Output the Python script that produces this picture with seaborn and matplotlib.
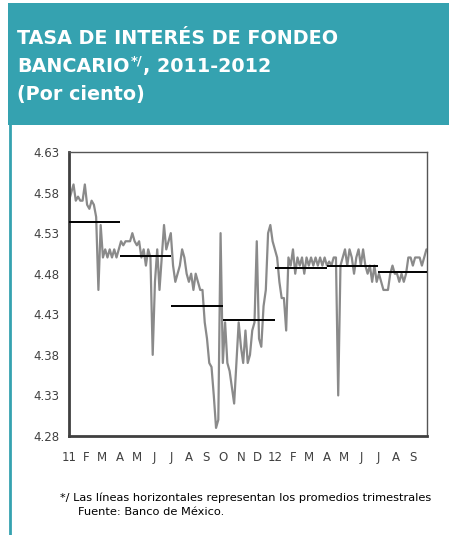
import numpy as np
import pandas as pd
import matplotlib
matplotlib.use("Agg")
import matplotlib.pyplot as plt
from matplotlib.patches import Rectangle
from matplotlib.lines import Line2D
import seaborn as sns

# ---------------- data ----------------
rate = [
    4.57, 4.58, 4.59, 4.57, 4.575, 4.57, 4.57, 4.59, 4.565, 4.56,
    4.57, 4.565, 4.55, 4.46, 4.54, 4.50, 4.51, 4.50, 4.51, 4.50,
    4.51, 4.50, 4.51, 4.52, 4.515, 4.52, 4.52, 4.52, 4.53, 4.52,
    4.515, 4.52, 4.50, 4.51, 4.49, 4.51, 4.50, 4.38, 4.47, 4.51,
    4.46, 4.50, 4.54, 4.51, 4.52, 4.53, 4.49, 4.47, 4.48, 4.49,
    4.51, 4.50, 4.48, 4.47, 4.48, 4.46, 4.48, 4.47, 4.46, 4.46,
    4.42, 4.40, 4.37, 4.365, 4.33, 4.29, 4.30, 4.53, 4.37, 4.42,
    4.37, 4.36, 4.34, 4.32, 4.37, 4.42, 4.39, 4.37, 4.41, 4.37,
    4.38, 4.41, 4.42, 4.52, 4.40, 4.39, 4.44, 4.46, 4.53, 4.54,
    4.52, 4.51, 4.50, 4.47, 4.45, 4.45, 4.41, 4.50, 4.49, 4.51,
    4.48, 4.50, 4.49, 4.50, 4.48, 4.50, 4.49, 4.50, 4.49, 4.50,
    4.49, 4.50, 4.49, 4.50, 4.49, 4.495, 4.49, 4.50, 4.50, 4.33,
    4.49, 4.50, 4.51, 4.49, 4.51, 4.50, 4.48, 4.50, 4.51, 4.49,
    4.51, 4.49, 4.48, 4.49, 4.47, 4.49, 4.47, 4.48, 4.47, 4.46,
    4.46, 4.46, 4.48, 4.49, 4.48, 4.48, 4.47, 4.48, 4.47, 4.48,
    4.50, 4.50, 4.49, 4.50, 4.50, 4.50, 4.49, 4.50, 4.51,
]
dates = pd.date_range("2011-01-01", periods=len(rate), freq="4D")

q_start = ["2011-01-01", "2011-04-01", "2011-07-01", "2011-10-01",
           "2012-01-01", "2012-04-01", "2012-07-01"]
q_end = ["2011-04-01", "2011-07-01", "2011-10-01", "2012-01-01",
         "2012-04-01", "2012-07-01", "2012-09-25"]
q_avg = [4.544, 4.502, 4.440, 4.423, 4.487, 4.490, 4.482]

x_labels = ["11", "F", "M", "A", "M", "J", "J", "A", "S", "O", "N", "D",
            "12", "F", "M", "A", "M", "J", "J", "A", "S"]
y_ticks = [4.28, 4.33, 4.38, 4.43, 4.48, 4.53, 4.58, 4.63]

title_l1 = "TASA DE INTERÉS DE FONDEO"
title_l2a = "BANCARIO"
title_l2b = "*/"
title_l2c = ", 2011-2012"
title_l3 = "(Por ciento)"
note1 = "*/ Las líneas horizontales representan los promedios trimestrales"
note2 = "Fuente: Banco de México."

# ---------------- style ----------------
sns.set_style("white")
plt.rcParams["font.family"] = ["DejaVu Sans"]

W, H = 449, 535
fig = plt.figure(figsize=(W / 100, H / 100), dpi=100)
teal = "#35a2b0"

# header band and left border
fig.patches.append(Rectangle((8 / W, 1 - 125 / H), (W - 8) / W, 122 / H,
                             transform=fig.transFigure, facecolor=teal,
                             edgecolor="none", zorder=0))
fig.lines.append(Line2D([9.5 / W, 9.5 / W], [0, 1 - 124 / H],
                        transform=fig.transFigure, color=teal, lw=2))

# ---------------- axes ----------------
ax = fig.add_axes([69 / W, 1 - 436 / H, (427 - 69) / W, (436 - 152) / H])
df = pd.DataFrame({"fecha": dates, "tasa": rate})
sns.lineplot(data=df, x="fecha", y="tasa", ax=ax, color="#8a8a8a", lw=1.6)
ax.hlines(q_avg, pd.to_datetime(q_start), pd.to_datetime(q_end),
          color="black", lw=1.4, zorder=3)

ax.set_xlim(pd.Timestamp("2011-01-01"), pd.Timestamp("2012-09-25"))
ax.set_ylim(4.28, 4.63)
ax.set_xlabel("")
ax.set_ylabel("")
ax.set_yticks(y_ticks)
ax.set_yticklabels([f"{v:.2f}" for v in y_ticks])
xt = pd.date_range("2011-01-01", periods=len(x_labels), freq="MS")
ax.set_xticks(xt)
ax.set_xticklabels(x_labels)
ax.tick_params(axis="both", colors="#404040", labelcolor="#404040",
               labelsize=8.5, length=3, width=1.2, direction="out")
ax.tick_params(axis="x", pad=8)
ax.tick_params(axis="y", pad=4)
for s in ["left", "bottom"]:
    ax.spines[s].set_color("#404040")
    ax.spines[s].set_linewidth(2)
for s in ["top", "right"]:
    ax.spines[s].set_color("#555555")
    ax.spines[s].set_linewidth(1)

# ---------------- titles ----------------
tfont = dict(family=["DejaVu Sans"], weight="bold", color="white",
             fontsize=13.8)
fig.text(17 / W, 1 - 44 / H, title_l1, va="baseline", ha="left", **tfont)
t2 = fig.text(17 / W, 1 - 72 / H, title_l2a, va="baseline", ha="left",
              **tfont)
fig.canvas.draw()
renderer = fig.canvas.get_renderer()
bb = t2.get_window_extent(renderer)
x_end = bb.x1 / W
t2b = fig.text(x_end + 1.5 / W, 1 - 64 / H, title_l2b, va="baseline",
               ha="left", family=["DejaVu Sans"], weight="bold",
               color="white", fontsize=9.5)
bb2 = t2b.get_window_extent(renderer)
fig.text(bb2.x1 / W + 0.5 / W, 1 - 72 / H, title_l2c, va="baseline",
         ha="left", **tfont)
fig.text(17 / W, 1 - 100 / H, title_l3, va="baseline", ha="left", **tfont)

nfont = dict(family=["DejaVu Sans"], fontsize=8.2, color="black")
fig.text(60 / W, 1 - 501 / H, note1, va="baseline", ha="left", **nfont)
fig.text(78 / W, 1 - 515 / H, note2, va="baseline", ha="left", **nfont)

fig.savefig("out.png", dpi=100)
